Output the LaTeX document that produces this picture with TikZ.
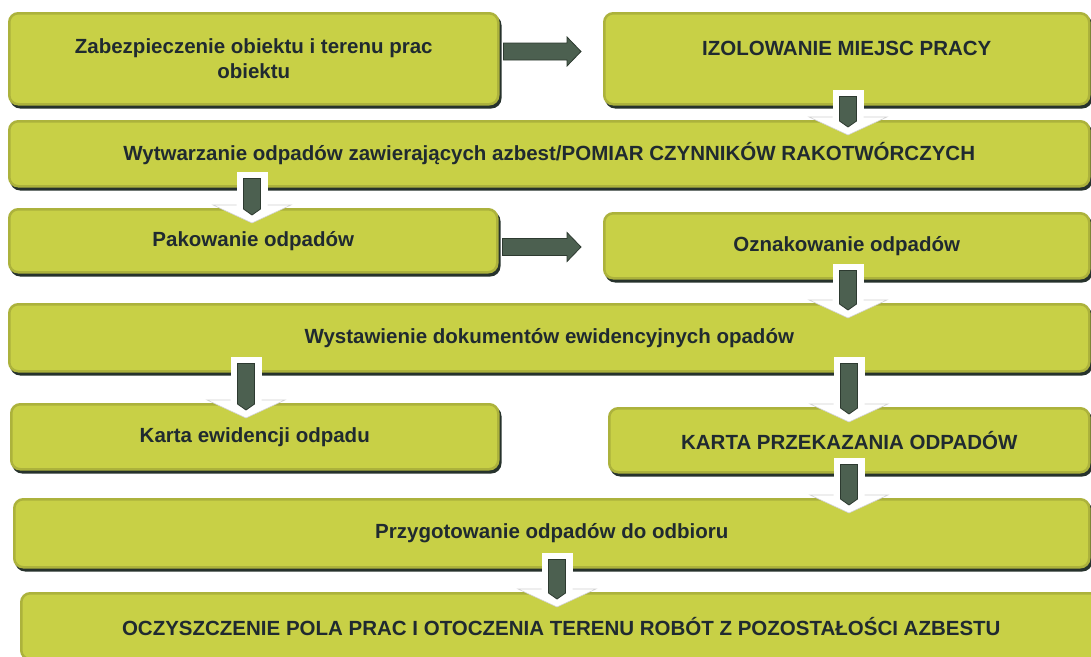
\documentclass[tikz,border=0pt]{standalone}
\usepackage{fontspec}
\setmainfont{Liberation Sans}
\usetikzlibrary{calc,shadows}
\definecolor{boxc}{RGB}{200,208,70}
\definecolor{boxedge}{RGB}{172,178,60}
\definecolor{shadowc}{RGB}{38,50,44}
\definecolor{txtc}{RGB}{32,42,48}
\definecolor{arrc}{RGB}{76,96,80}
\definecolor{arredge}{RGB}{45,58,48}
\tikzset{
  box/.style={rectangle, rounded corners=9pt, fill=boxc, draw=boxedge, line width=2.5pt,
    anchor=north west, inner sep=0pt, align=center, text=txtc,
    font=\bfseries\fontsize{20.5}{25}\selectfont,
    copy shadow={shadow xshift=2pt, shadow yshift=-3pt, fill=shadowc, draw=shadowc}},
  whitearr/.style={fill=white, draw=black!18, line width=0.6pt, line join=miter},
  darkarr/.style={fill=arrc, draw=arredge, line width=0.8pt},
}
\newcommand\dnarr[3]{%
  \coordinate (t) at (#1,0 |- #2.south);
  \coordinate (h) at (#1,0 |- #3.north);
  \coordinate (s) at ($(t)+(0,-16)$);
  \coordinate (p) at ($(h)+(0,15)$);
  \fill[white] ($(s)+(-15.5,0)$) -- ($(s)+(15.5,0)$) -- ($(h)+(15.5,-3)$) -- ($(h)+(-15.5,-3)$) -- cycle;
  \draw[whitearr] ($(h)+(-15.5,-3)$) -- ($(h)+(-39,-3)$) -- (p) -- ($(h)+(39,-3)$) -- ($(h)+(15.5,-3)$);
  \fill[white] ($(h)+(-15,-4)$) rectangle ($(h)+(15,0)$);
  \draw[darkarr] ($(s)+(-8.5,7)$) -- ($(s)+(8.5,7)$) -- ($(p)+(8.5,-14)$) -- ($(p)+(0,-8)$) -- ($(p)+(-8.5,-14)$) -- cycle;
}
\newcommand\rtarr[3]{%
  \coordinate (a) at (#1.east |- 0,#3);
  \coordinate (e) at (#2.west |- 0,#3);
  \draw[darkarr] ($(a)+(4,-8.5)$) -- ($(e)+(-36,-8.5)$) -- ($(e)+(-36,-14.5)$) -- ($(e)+(-22,0)$)
     -- ($(e)+(-36,14.5)$) -- ($(e)+(-36,8.5)$) -- ($(a)+(4,8.5)$) -- cycle;
}
\begin{document}
\begin{tikzpicture}[x=1pt,y=-1pt]
\clip (0,0) rectangle (1091,656);
\fill[white] (0,0) rectangle (1091,656);

\node[box, minimum width=489pt, minimum height=91pt] (b1) at (8,12) {Zabezpieczenie obiektu i terenu prac\\obiektu};
\node[box, minimum width=485pt, minimum height=91pt,
  label={[font=\bfseries\fontsize{20.5}{25}\selectfont, text=txtc, yshift=10pt]center:IZOLOWANIE MIEJSC PRACY}] (b2) at (603,12) {};
\node[box, minimum width=1080pt, minimum height=65pt] (b3) at (8,120) {Wytwarzanie odpadów zawierających azbest/POMIAR CZYNNIKÓW RAKOTWÓRCZYCH};
\node[box, minimum width=488pt, minimum height=63pt] (b4) at (8,208) {Pakowanie odpadów};
\node[box, minimum width=485pt, minimum height=65pt] (b5) at (603,212) {Oznakowanie odpadów};
\node[box, minimum width=1080pt, minimum height=67pt] (b6) at (8,303) {Wystawienie dokumentów ewidencyjnych opadów};
\node[box, minimum width=487pt, minimum height=65pt] (b7) at (10,403) {Karta ewidencji odpadu};
\node[box, minimum width=480pt, minimum height=64pt] (b8) at (608,407) {KARTA PRZEKAZANIA ODPADÓW};
\node[box, minimum width=1075pt, minimum height=68pt] (b9) at (13,498) {Przygotowanie odpadów do odbioru};
\node[box, minimum width=1080pt, minimum height=66pt] (b10) at (20,592) {OCZYSZCZENIE POLA PRAC I OTOCZENIA TERENU ROBÓT Z POZOSTAŁOŚCI AZBESTU};

\dnarr{848}{b2}{b3}
\dnarr{252}{b3}{b4}
\dnarr{848}{b5}{b6}
\dnarr{246}{b6}{b7}
\dnarr{849}{b6}{b8}
\dnarr{849}{b8}{b9}
\dnarr{557}{b9}{b10}

\rtarr{b1}{b2}{51.5}
\rtarr{b4}{b5}{247}
\end{tikzpicture}
\end{document}
